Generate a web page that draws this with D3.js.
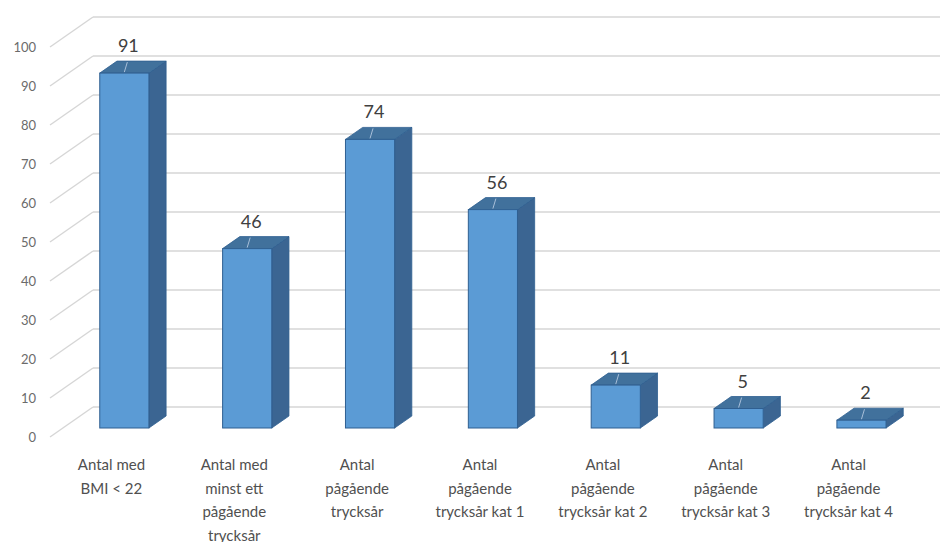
<!DOCTYPE html>
<html>
<head>
<meta charset="utf-8">
<script src="https://cdn.jsdelivr.net/npm/d3@7"></script>
<style>
  html, body { margin: 0; padding: 0; background: #ffffff; }
  svg { display: block; }
</style>
</head>
<body>
<svg id="chart" width="940" height="542"></svg>
<script>
// Data
const categories = [
  "BMI<22", "minst ett", "pågående", "kat 1", "kat 2", "kat 3", "kat 4"
];
const categoryLines = [
  ["Antal med", "BMI < 22"],
  ["Antal med", "minst ett", "pågående", "trycksår"],
  ["Antal", "pågående", "trycksår"],
  ["Antal", "pågående", "trycksår kat 1"],
  ["Antal", "pågående", "trycksår kat 2"],
  ["Antal", "pågående", "trycksår kat 3"],
  ["Antal", "pågående", "trycksår kat 4"]
];
const values = [91, 46, 74, 56, 11, 5, 2];
const tickValues = [0, 10, 20, 30, 40, 50, 60, 70, 80, 90, 100];

// Oblique 3D projection: front plane scales plus a depth vector for the floor
const svg = d3.select("#chart");
const depthX = 43, depthY = -30;          // full floor depth offset
const barFront = 0.3, barBack = 0.7;      // bar position along the depth

const x = d3.scaleBand()
  .domain(categories)
  .range([50, 910])
  .paddingInner(0.6)
  .paddingOuter(0.3);

const y = d3.scaleLinear().domain([0, 100]).range([437, 47]);

const gridColor = "#d6d6d6";

// Back wall gridlines
svg.append("g").selectAll("line")
  .data(tickValues)
  .join("line")
  .attr("x1", 50 + depthX)
  .attr("x2", 960)
  .attr("y1", d => y(d) + depthY)
  .attr("y2", d => y(d) + depthY)
  .attr("stroke", gridColor)
  .attr("stroke-width", 1.6);

// Side wall gridlines
svg.append("g").selectAll("line")
  .data(tickValues)
  .join("line")
  .attr("x1", 50)
  .attr("x2", 50 + depthX)
  .attr("y1", d => y(d))
  .attr("y2", d => y(d) + depthY)
  .attr("stroke", gridColor)
  .attr("stroke-width", 1.4);

// Value axis labels
svg.append("g").selectAll("text")
  .data(tickValues)
  .join("text")
  .attr("x", 36)
  .attr("y", d => y(d) + 4.5)
  .attr("text-anchor", "end")
  .attr("font-family", "Lato, 'Open Sans', sans-serif")
  .attr("font-size", 13)
  .attr("fill", "#6b6b6b")
  .text(d => d);

// Bars
const bars = svg.append("g").selectAll("g")
  .data(categories.map((c, i) => ({ c, v: values[i] })))
  .join("g");

const fx = d => x(d.c) + depthX * barFront;
const fy0 = y(0) + depthY * barFront;
const fyTop = d => y(d.v) + depthY * barFront;
const ddx = depthX * (barBack - barFront);
const ddy = depthY * (barBack - barFront);
const bw = x.bandwidth();
const edge = "#2f5f91";

// side face
bars.append("path")
  .attr("d", d => {
    const x1 = fx(d) + bw;
    return `M${x1},${fy0} L${x1 + ddx},${fy0 + ddy} L${x1 + ddx},${fyTop(d) + ddy} L${x1},${fyTop(d)} Z`;
  })
  .attr("fill", "#3b6592")
  .attr("stroke", edge)
  .attr("stroke-width", 0.8)
  .attr("stroke-linejoin", "round");

// top face
bars.append("path")
  .attr("d", d => {
    const x0 = fx(d), t = fyTop(d);
    return `M${x0},${t} L${x0 + bw},${t} L${x0 + bw + ddx},${t + ddy} L${x0 + ddx},${t + ddy} Z`;
  })
  .attr("fill", "#41719c")
  .attr("stroke", edge)
  .attr("stroke-width", 0.8)
  .attr("stroke-linejoin", "round");

// front face
bars.append("rect")
  .attr("x", d => fx(d))
  .attr("y", d => fyTop(d))
  .attr("width", bw)
  .attr("height", d => fy0 - fyTop(d))
  .attr("fill", "#5b9bd5")
  .attr("stroke", edge)
  .attr("stroke-width", 1);

// leader lines from value labels to bar tops
bars.append("line")
  .attr("x1", d => fx(d) + bw / 2)
  .attr("y1", d => fyTop(d) - 1)
  .attr("x2", d => fx(d) + bw / 2 + 3)
  .attr("y2", d => fyTop(d) + ddy + 1)
  .attr("stroke", "#a8bfd9")
  .attr("stroke-width", 1);

// value labels
bars.append("text")
  .attr("x", d => fx(d) + bw / 2 + 4)
  .attr("y", d => fyTop(d) - 21)
  .attr("text-anchor", "middle")
  .attr("font-family", "Lato, 'Open Sans', sans-serif")
  .attr("font-size", 18)
  .attr("fill", "#404040")
  .text(d => d.v);

// Category labels on the front edge of the floor
const catG = svg.append("g").selectAll("text")
  .data(categories.map((c, i) => ({ c, lines: categoryLines[i] })))
  .join("text")
  .attr("text-anchor", "middle")
  .attr("font-family", "Lato, 'Open Sans', sans-serif")
  .attr("font-size", 15)
  .attr("fill", "#505050");

catG.selectAll("tspan")
  .data(d => d.lines.map(l => ({ l, cx: x(d.c) + bw / 2 })))
  .join("tspan")
  .attr("x", d => d.cx)
  .attr("y", (d, i) => 470 + i * 23.5)
  .text(d => d.l);
</script>
</body>
</html>
